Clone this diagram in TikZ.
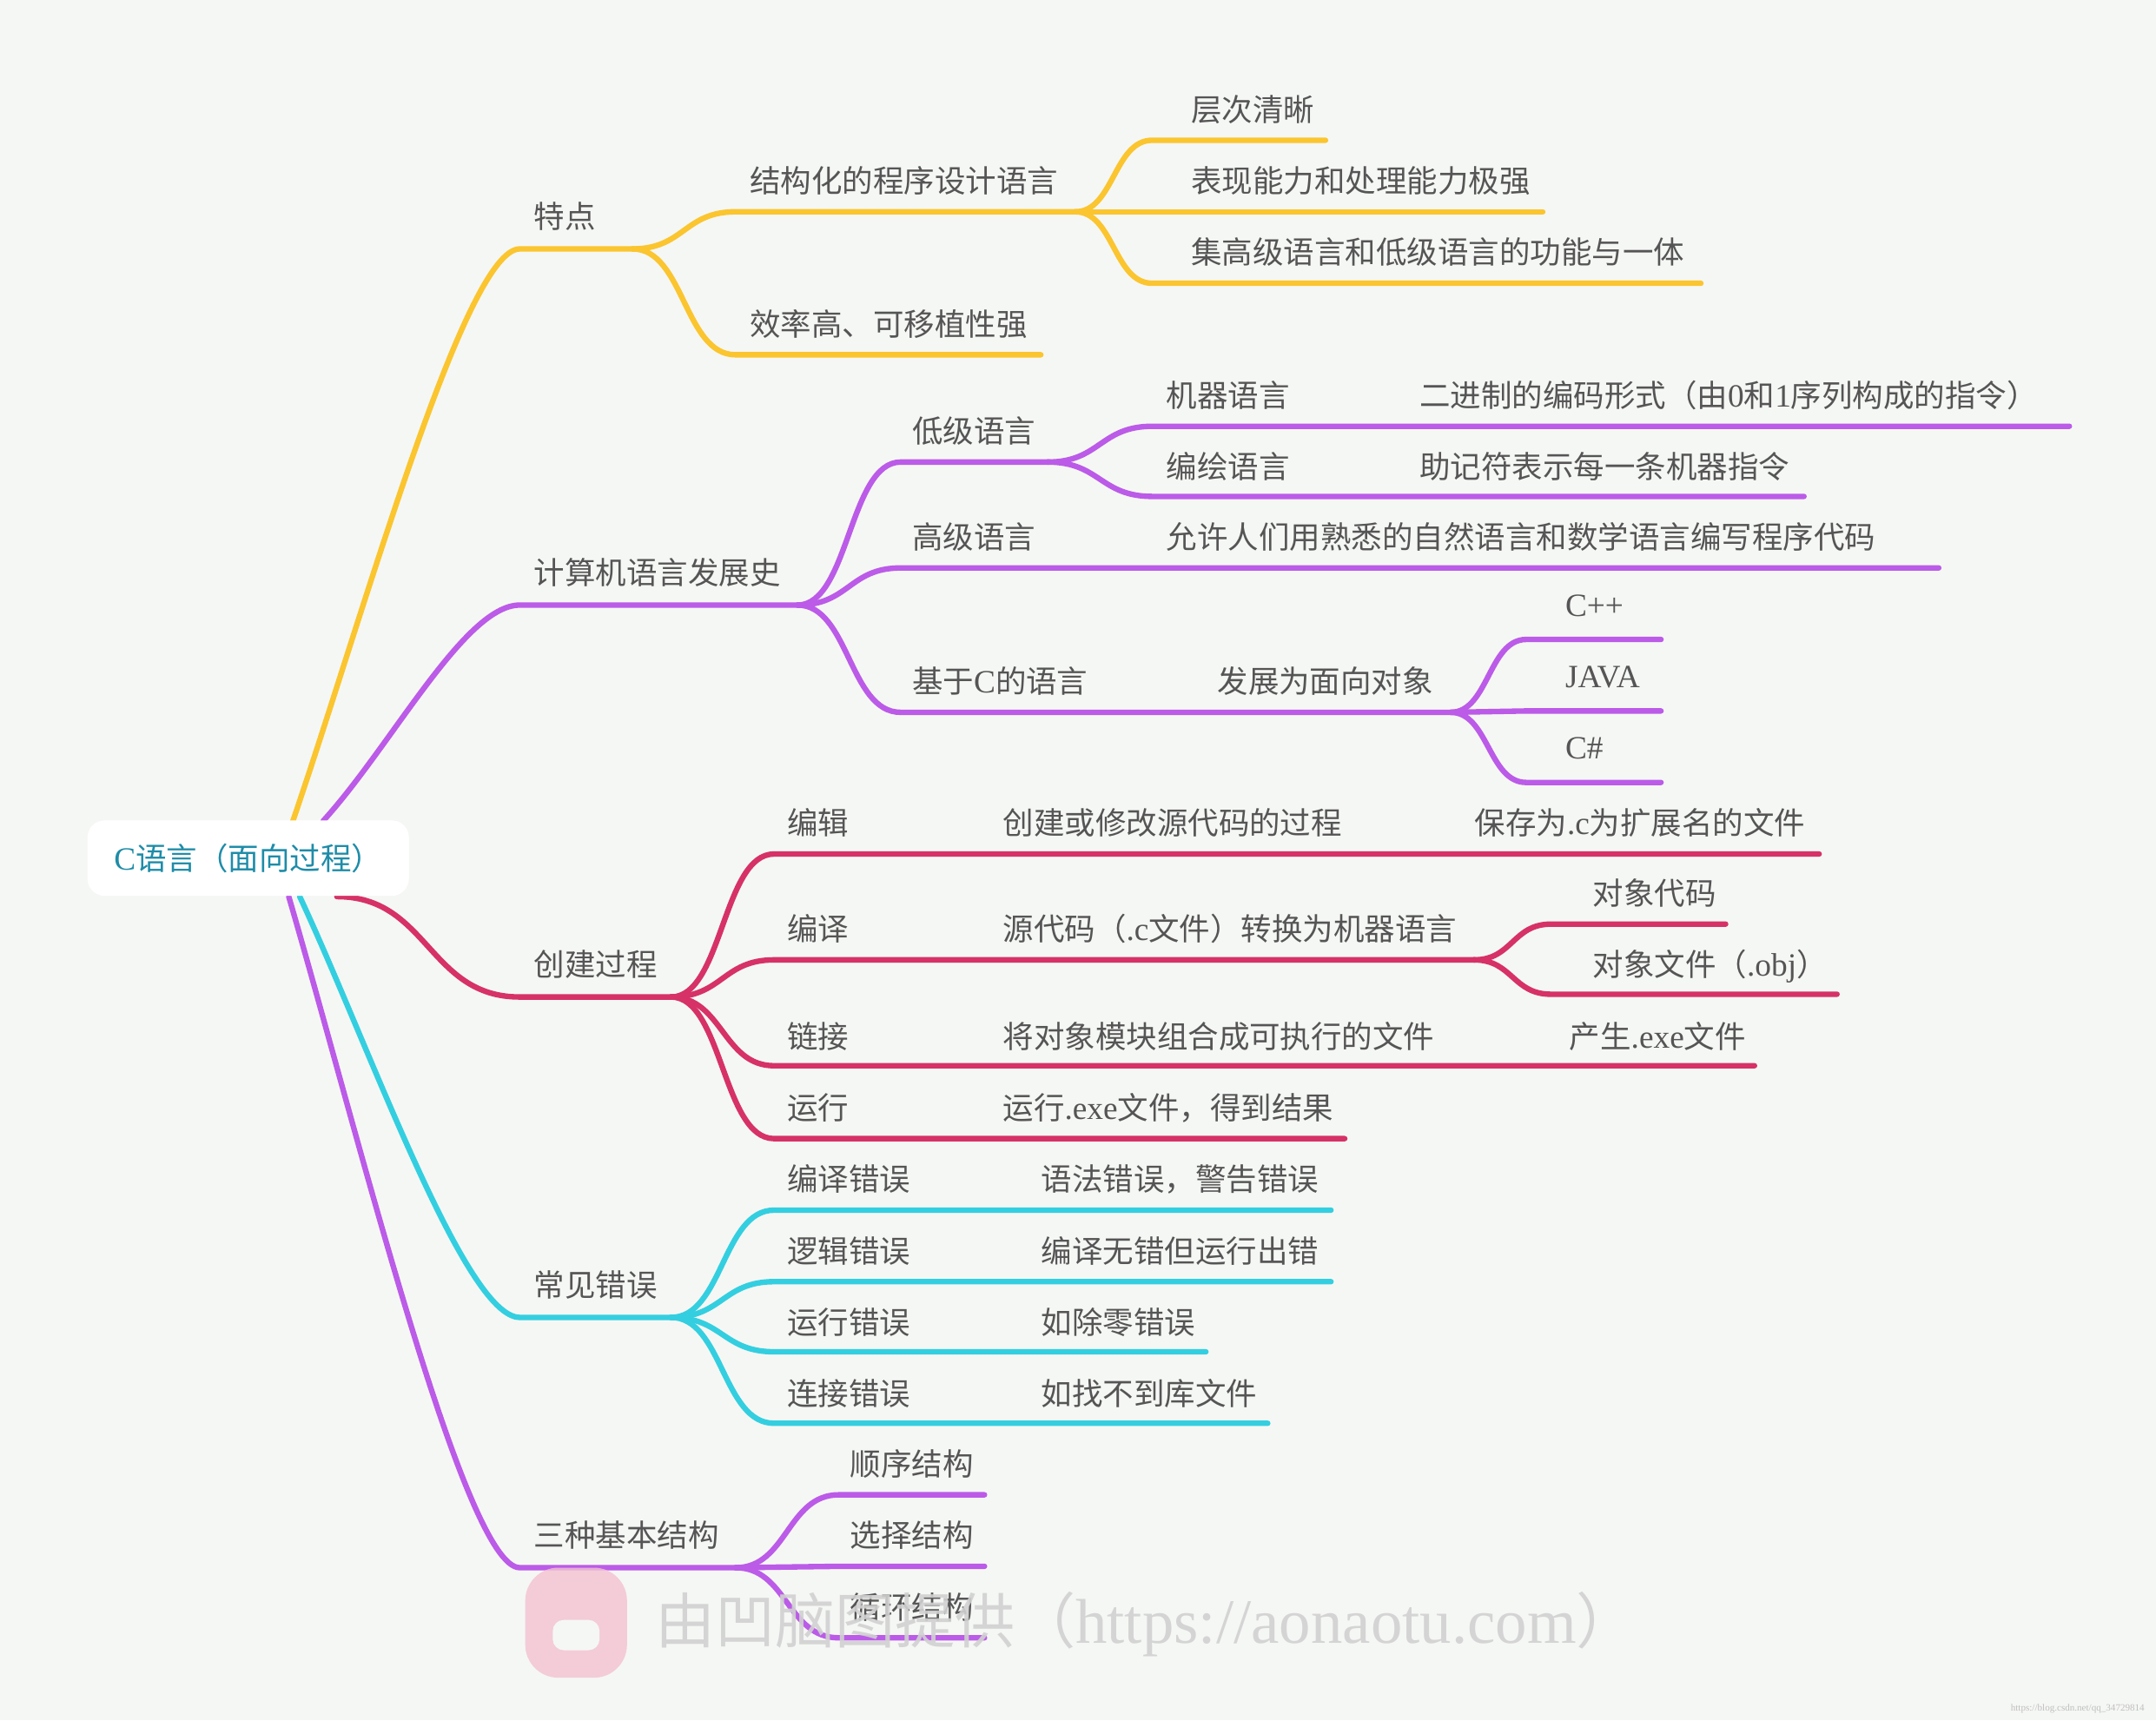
\documentclass[tikz,border=0pt]{standalone}
\usepackage{fontspec}
\setmainfont{Liberation Serif}
\newfontfamily\cjk{Noto Sans CJK SC}[Scale=0.95]
\usetikzlibrary{calc}
\definecolor{bg}{HTML}{F5F7F4}
\definecolor{cy}{HTML}{FBC52F}
\definecolor{cp}{HTML}{BB5BE8}
\definecolor{cr}{HTML}{D63267}
\definecolor{cc}{HTML}{33CFE0}
\definecolor{tx}{HTML}{555555}
\definecolor{rt}{HTML}{1E8CA8}
\newcommand\br[6]{%
  \pgfmathsetmacro\dd{(#4-#2)/2}%
  \draw[#1,line width=2pt,line cap=round] (#2,#3) .. controls +(\dd,0) and +(-\dd,0) .. (#4,#5) -- (#6,#5);}
\newcommand\rb[6]{%
  \draw[#1,line width=2pt,line cap=round] (#2,#3) .. controls +(50,{(#5-#3)*0.35}) and +(-40,0) .. (#4,#5) -- (#6,#5);}
\newcommand\tl[3]{\node[lbl] at (#1,#2+8) {#3};}
\begin{document}
\begin{tikzpicture}[x=0.5pt,y=-0.5pt,lbl/.style={anchor=base west,inner sep=0pt,text=tx,font=\fontsize{11.8}{13}\selectfont}]
\fill[bg] (0,0) rectangle (1568,1251);
\useasboundingbox (0,0) rectangle (1568,1251);
% level 1
\rb{cy}{213}{597}{378}{181}{460}
\rb{cp}{235}{597}{378}{440}{580}
\br{cr}{245}{652}{378}{725}{488}
\rb{cc}{218}{652}{378}{958}{488}
\rb{cp}{210}{652}{378}{1140}{535}
\tl{388}{158}{\cjk 特点}
\tl{388}{417}{\cjk 计算机语言发展史}
\tl{388}{702}{\cjk 创建过程}
\tl{388}{935}{\cjk 常见错误}
\tl{388}{1117}{\cjk 三种基本结构}
% 特点
\br{cy}{460}{181}{535}{154}{782}
\br{cy}{460}{181}{535}{258}{757}
\tl{545}{132}{\cjk 结构化的程序设计语言}
\tl{545}{236}{\cjk 效率高、可移植性强}
\br{cy}{782}{154}{838}{102}{964}
\br{cy}{782}{154}{838}{154}{1122}
\br{cy}{782}{154}{838}{206}{1237}
\tl{866}{80}{\cjk 层次清晰}
\tl{866}{132}{\cjk 表现能力和处理能力极强}
\tl{866}{184}{\cjk 集高级语言和低级语言的功能与一体}
% 计算机语言发展史
\br{cp}{580}{440}{655}{336}{762}
\br{cp}{580}{440}{655}{413}{1410}
\br{cp}{580}{440}{655}{518}{1055}
\tl{663}{314}{\cjk 低级语言}
\tl{663}{391}{\cjk 高级语言}
\tl{848}{391}{\cjk 允许人们用熟悉的自然语言和数学语言编写程序代码}
\tl{663}{496}{{\cjk 基于}C{\cjk 的语言}}
\tl{885}{496}{\cjk 发展为面向对象}
\br{cp}{762}{336}{838}{310}{1505}
\br{cp}{762}{336}{838}{361}{1312}
\tl{848}{288}{\cjk 机器语言}
\tl{848}{340}{\cjk 编绘语言}
\tl{1032}{288}{{\cjk 二进制的编码形式（由}0{\cjk 和}1{\cjk 序列构成的指令）}}
\tl{1032}{340}{\cjk 助记符表示每一条机器指令}
\br{cp}{1055}{518}{1110}{465}{1208}
\br{cp}{1055}{518}{1110}{517}{1208}
\br{cp}{1055}{518}{1110}{569}{1208}
\tl{1138}{440}{C++}
\tl{1138}{492}{JAVA}
\tl{1138}{544}{C\#}
% 创建过程
\br{cr}{488}{725}{563}{621}{1323}
\br{cr}{488}{725}{563}{698}{1072}
\br{cr}{488}{725}{563}{775}{1276}
\br{cr}{488}{725}{563}{828}{978}
\tl{572}{599}{\cjk 编辑}
\tl{572}{676}{\cjk 编译}
\tl{572}{754}{\cjk 链接}
\tl{572}{806}{\cjk 运行}
\tl{729}{599}{\cjk 创建或修改源代码的过程}
\tl{1072}{599}{{\cjk 保存为}.c{\cjk 为扩展名的文件}}
\tl{729}{676}{{\cjk 源代码（}.c{\cjk 文件）转换为机器语言}}
\tl{729}{754}{\cjk 将对象模块组合成可执行的文件}
\tl{1141}{754}{{\cjk 产生}.exe{\cjk 文件}}
\tl{729}{806}{{\cjk 运行}.exe{\cjk 文件，得到结果}}
\br{cr}{1072}{698}{1128}{672}{1255}
\br{cr}{1072}{698}{1128}{723}{1336}
\tl{1158}{650}{\cjk 对象代码}
\tl{1158}{702}{{\cjk 对象文件（}.obj{\cjk ）}}
% 常见错误
\br{cc}{488}{958}{563}{880}{968}
\br{cc}{488}{958}{563}{932}{968}
\br{cc}{488}{958}{563}{983}{877}
\br{cc}{488}{958}{563}{1035}{922}
\tl{572}{858}{\cjk 编译错误}
\tl{572}{910}{\cjk 逻辑错误}
\tl{572}{962}{\cjk 运行错误}
\tl{572}{1014}{\cjk 连接错误}
\tl{757}{858}{\cjk 语法错误，警告错误}
\tl{757}{910}{\cjk 编译无错但运行出错}
\tl{757}{962}{\cjk 如除零错误}
\tl{757}{1014}{\cjk 如找不到库文件}
% 三种基本结构
\br{cp}{535}{1140}{610}{1087}{716}
\br{cp}{535}{1140}{610}{1139}{716}
\br{cp}{535}{1140}{610}{1191}{716}
\tl{618}{1065}{\cjk 顺序结构}
\tl{618}{1117}{\cjk 选择结构}
\tl{618}{1169}{\cjk 循环结构}
% root
\node[draw=white,fill=white,rounded corners=6pt,minimum width=116.5pt,minimum height=27pt,inner sep=0pt,text=rt,font=\fontsize{11.8}{13}\selectfont] (root) at (180.5,624) {C{\cjk 语言（面向过程）}};
% watermark
\fill[cr!30,opacity=0.8,rounded corners=12pt] (382,1140) rectangle (456,1220);
\fill[bg,rounded corners=4pt] (402,1178) rectangle (436,1200);
\node[anchor=base west,inner sep=0pt,text=black!18,font=\fontsize{23}{25}\selectfont,opacity=0.9] (wm) at (476,1195) {{\cjk 由凹脑图提供（}https://aonaotu.com{\cjk ）}};
\node[anchor=south east,inner sep=1pt,text=black!25,font=\fontsize{3.5}{4}\selectfont] (csdn) at (1562,1248) {https://blog.csdn.net/qq\_34729814};
\end{tikzpicture}
\end{document}
